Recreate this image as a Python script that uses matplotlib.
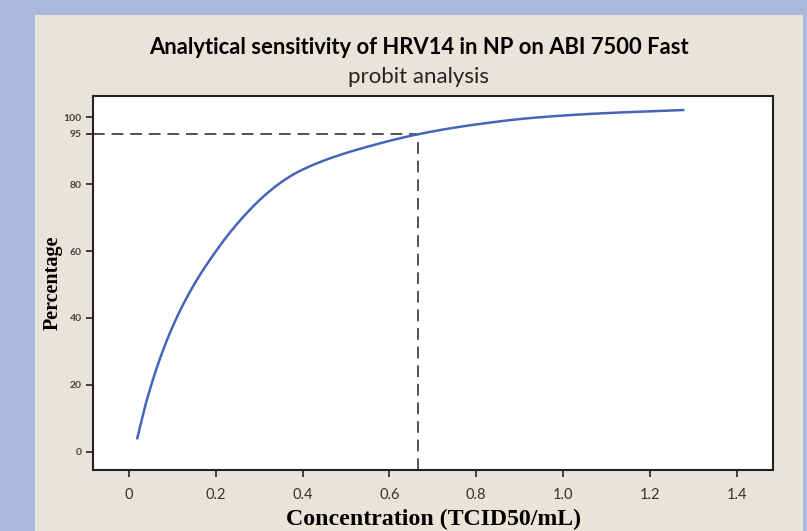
import numpy as np
import matplotlib
matplotlib.use("Agg")
from matplotlib import pyplot as plt
from matplotlib.patches import Rectangle

# probit curve
conc = [0.019, 0.041, 0.079, 0.118, 0.156, 0.194, 0.233, 0.271, 0.309, 0.348,
        0.386, 0.455, 0.548, 0.667, 0.778, 0.932, 1.085, 1.277]
pct = [4.1, 15.5, 30.6, 42.3, 51.3, 58.8, 65.6, 71.3, 76.2, 80.3,
       83.4, 87.3, 91.1, 94.9, 97.4, 99.8, 101.1, 102.1]

lod_x = 0.667
lod_y = 95

xticks = [0, 0.2, 0.4, 0.6, 0.8, 1.0, 1.2, 1.4]
xlabels = ['0', '0.2', '0.4', '0.6', '0.8', '1.0', '1.2', '1.4']
yticks = [0, 20, 40, 60, 80, 95, 100]

title = "Analytical sensitivity of HRV14 in NP on ABI 7500 Fast"
subtitle = "probit analysis"


def monotone_cubic(x, y, xn):
    # Fritsch-Carlson, keeps the read points and avoids wiggles
    x = np.asarray(x, float)
    y = np.asarray(y, float)
    h = np.diff(x)
    d = np.diff(y) / h
    m = np.zeros_like(y)
    m[0], m[-1] = d[0], d[-1]
    for i in range(1, len(x) - 1):
        if d[i - 1] * d[i] > 0:
            w1 = 2 * h[i] + h[i - 1]
            w2 = h[i] + 2 * h[i - 1]
            m[i] = (w1 + w2) / (w1 / d[i - 1] + w2 / d[i])
    idx = np.clip(np.searchsorted(x, xn) - 1, 0, len(x) - 2)
    t = (xn - x[idx]) / h[idx]
    h00 = 2 * t**3 - 3 * t**2 + 1
    h10 = t**3 - 2 * t**2 + t
    h01 = -2 * t**3 + 3 * t**2
    h11 = t**3 - t**2
    return (h00 * y[idx] + h10 * h[idx] * m[idx] + h01 * y[idx + 1]
            + h11 * h[idx] * m[idx + 1])


fig = plt.figure(figsize=(8.07, 5.31), dpi=100)
fig.patch.set_facecolor('#abb8dc')
fig.patches.append(Rectangle((35 / 807, 0), (803 - 35) / 807, 1 - 15 / 531,
                             transform=fig.transFigure, facecolor='#e8e4da',
                             edgecolor='none', zorder=-5))

ax = fig.add_axes([93 / 807, 1 - 470 / 531, (773 - 93) / 807, (470 - 96) / 531])
ax.set_facecolor('white')

xs = np.linspace(conc[0], conc[-1], 400)
ax.plot(xs, monotone_cubic(conc, pct, xs), color='#4565b8', lw=1.8, zorder=3)

ax.plot([-0.083, lod_x], [lod_y, lod_y], color='#444444', lw=1.3,
        dashes=(6.5, 3.8), zorder=2)
ax.plot([lod_x, lod_x], [-5.4, lod_y], color='#444444', lw=1.3,
        dashes=(6.5, 3.8), zorder=2)

ax.set_xlim(-0.083, 1.484)
ax.set_ylim(-5.4, 106.3)

ax.set_xticks(xticks)
ax.set_xticklabels(xlabels, fontsize=10.5, color='#333333', family='Lato')
ax.set_yticks(yticks)
ax.set_yticklabels([str(v) for v in yticks], fontsize=7.5, color='#444444',
                   family='Lato', fontweight='bold')
ax.tick_params(axis='both', direction='out', length=5, width=1.2, color='#222222')
ax.tick_params(axis='x', pad=8)
ax.tick_params(axis='y', pad=3)
for s in ax.spines.values():
    s.set_linewidth(1.5)
    s.set_color('#222222')

ax.set_xlabel("Concentration (TCID50/mL)", fontsize=17.2, fontweight='bold',
              family='Liberation Serif', labelpad=5)
ax.set_ylabel("Percentage", fontsize=14.5, fontweight='bold',
              family='Liberation Serif', labelpad=1)

fig.text(419 / 807, 1 - 47 / 531, title, ha='center', va='center',
         fontsize=15.8, fontweight='bold', family='Lato')
fig.text(419 / 807, 1 - 77 / 531, subtitle, ha='center', va='center',
         fontsize=16, family='Lato', color='#222222')

fig.savefig('out.png', dpi=100, facecolor=fig.get_facecolor())
